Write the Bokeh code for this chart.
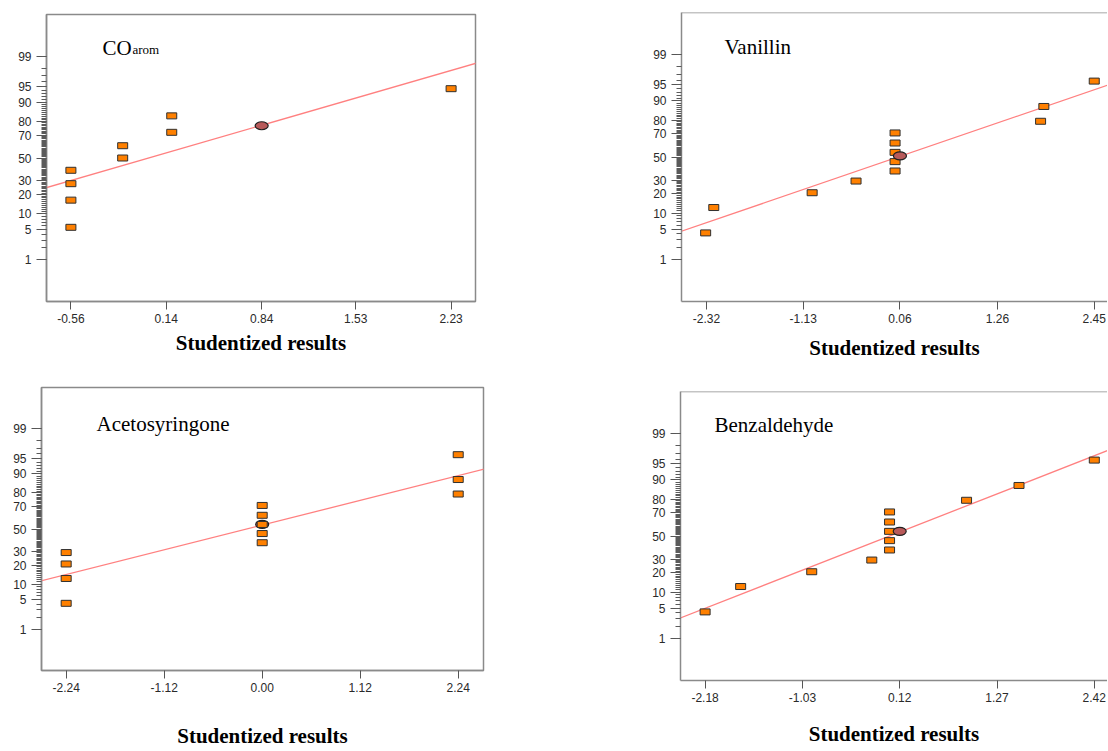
from statistics import NormalDist
from bokeh.plotting import figure
from bokeh.models import (Range1d, FixedTicker, PrintfTickFormatter, Slope, Label,
                          Span, ColumnDataSource)
from bokeh.layouts import row, column
from bokeh.embed import file_html
from bokeh.resources import INLINE

# ---------------- data ----------------
prob_ticks = [1, 5, 10, 20, 30, 50, 70, 80, 90, 95, 99]
x_title = "Studentized results"

# CO arom
co_xticks = [-0.56, 0.14, 0.84, 1.53, 2.23]
co_x = [-0.56, -0.56, -0.56, -0.56, -0.18, -0.18, 0.18, 0.18, 2.23]
co_p = [5.6, 16.7, 27.8, 38.9, 50.0, 61.1, 72.2, 83.3, 94.4]
co_sel_x = [0.84]
co_sel_p = [77.0]
co_fit = [0.905, -0.01]          # slope, intercept (normal-score units)

# Vanillin
va_xticks = [-2.32, -1.13, 0.06, 1.26, 2.45]
va_x = [-2.33, -2.23, -1.02, -0.48, 0.0, 0.0, 0.0, 0.0, 0.0, 1.79, 1.83, 2.45]
va_p = [4.2, 12.5, 20.8, 29.2, 37.5, 45.8, 54.2, 62.5, 70.8, 79.2, 87.5, 95.8]
va_sel_x = [0.06]
va_sel_p = [51.0]
va_fit = [0.6345, -0.024]

# Acetosyringone
ac_xticks = [-2.24, -1.12, 0.00, 1.12, 2.24]
ac_x = [-2.24, -2.24, -2.24, -2.24, 0.0, 0.0, 0.0, 0.0, 0.0, 2.24, 2.24, 2.24]
ac_p = [4.2, 12.5, 20.8, 29.2, 37.5, 45.8, 54.2, 62.5, 70.8, 79.2, 87.5, 95.8]
ac_sel_x = [0.0]
ac_sel_p = [54.2]
ac_fit = [0.5128, 0.091]

# Benzaldehyde
be_xticks = [-2.18, -1.03, 0.12, 1.27, 2.42]
be_x = [-2.18, -1.76, -0.92, -0.21, 0.0, 0.0, 0.0, 0.0, 0.0, 0.91, 1.53, 2.42]
be_p = [4.2, 12.5, 20.8, 29.2, 37.5, 45.8, 54.2, 62.5, 70.8, 79.2, 87.5, 95.8]
be_sel_x = [0.12]
be_sel_p = [54.2]
be_fit = [0.7546, 0.0]

# ---------------- helpers ----------------
ND = NormalDist()


def z(pct):
    return ND.inv_cdf(pct / 100.0)


ZMAX = 3.29
GRAY = "#8a8a8a"
TICKC = "#555555"
LABC = "#2a2a2a"


def make_panel(title, xs, ps, xticks, sel_x, sel_p, fit, xr, w, h, bl, br, bt, bb,
               title_xy, xlab_standoff, closed, sub=None, sub_xy=None,
               circle_under=False):
    fh = h - bt - bb
    p = figure(width=w, height=h, x_range=Range1d(*xr), y_range=Range1d(-ZMAX, ZMAX),
               output_backend="svg", toolbar_location=None,
               min_border_left=bl, min_border_right=br, min_border_top=bt,
               min_border_bottom=bb, background_fill_color="white",
               border_fill_color="white")
    p.grid.visible = False
    if closed:
        p.outline_line_color = GRAY
        p.outline_line_width = 1.5
    else:
        p.outline_line_color = None
        p.add_layout(Span(location=ZMAX, dimension="width", line_color=GRAY,
                          line_width=1.5))

    xa = p.xaxis[0]
    xa.ticker = FixedTicker(ticks=xticks)
    xa.formatter = PrintfTickFormatter(format="%.2f")
    xa.axis_line_color = GRAY
    xa.axis_line_width = 1.5
    xa.major_tick_line_color = TICKC
    xa.major_tick_out = 8
    xa.major_tick_in = 0
    xa.minor_tick_line_color = None
    xa.major_label_standoff = 4
    xa.major_label_text_font = "Liberation Sans"
    xa.major_label_text_font_size = "12px"
    xa.major_label_text_color = LABC
    xa.axis_label = x_title
    xa.axis_label_standoff = xlab_standoff
    xa.axis_label_text_font = "Liberation Serif"
    xa.axis_label_text_font_size = "21px"
    xa.axis_label_text_font_style = "bold"
    xa.axis_label_text_color = "black"

    ya = p.yaxis[0]
    ya.ticker = FixedTicker(ticks=[z(v) for v in prob_ticks],
                            minor_ticks=[z(k) for k in range(1, 100)])
    ya.major_label_overrides = {z(v): str(v) for v in prob_ticks}
    ya.axis_line_color = GRAY
    ya.axis_line_width = 1.5
    ya.major_tick_line_color = TICKC
    ya.major_tick_out = 10
    ya.major_tick_in = 0
    ya.minor_tick_line_color = "#5a5a5a"
    ya.minor_tick_out = 5
    ya.minor_tick_in = 0
    ya.major_label_standoff = 5
    ya.major_label_text_font = "Liberation Sans"
    ya.major_label_text_font_size = "12px"
    ya.major_label_text_color = LABC

    p.add_layout(Slope(gradient=fit[0], y_intercept=fit[1], line_color="#FF8080",
                       line_width=1.3, level="underlay"))

    src = ColumnDataSource(dict(x=xs, y=[z(v) for v in ps]))
    sel = ColumnDataSource(dict(x=sel_x, y=[z(v) for v in sel_p]))
    if circle_under:
        p.ellipse("x", "y", source=sel, width=13, height=8, width_units="screen",
                  height_units="screen", fill_color="#B85A5A", line_color="#202020",
                  line_width=1.2)
    p.rect("x", "y", source=src, width=10, height=6, width_units="screen",
           height_units="screen", fill_color="#FF8000", line_color="#303030",
           line_width=1)
    if not circle_under:
        p.ellipse("x", "y", source=sel, width=13, height=8, width_units="screen",
                  height_units="screen", fill_color="#B85A5A", line_color="#202020",
                  line_width=1.2)

    p.add_layout(Label(x=title_xy[0], y=fh - title_xy[1], x_units="screen",
                       y_units="screen", text=title, text_font="Liberation Serif",
                       text_font_size="21px", text_baseline="alphabetic",
                       text_align="left", text_color="black"))
    if sub:
        p.add_layout(Label(x=sub_xy[0], y=fh - sub_xy[1], x_units="screen",
                           y_units="screen", text=sub, text_font="Liberation Serif",
                           text_font_size="13px", text_baseline="alphabetic",
                           text_align="left", text_color="black"))
    return p


p1 = make_panel("CO", co_x, co_p, co_xticks, co_sel_x, co_sel_p, co_fit,
                (-0.739, 2.409), 620, 379, 46, 145, 14, 78,
                (56, 33), 5, True, sub="arom", sub_xy=(86, 35))
p2 = make_panel("Vanillin", va_x, va_p, va_xticks, va_sel_x, va_sel_p, va_fit,
                (-2.627, 2.613), 487, 380, 61, 0, 12, 79,
                (43, 34), 10, False)
p3 = make_panel("Acetosyringone", ac_x, ac_p, ac_xticks, ac_sel_x, ac_sel_p, ac_fit,
                (-2.522, 2.529), 620, 371, 41, 137, 8, 79,
                (55, 37), 29, True, circle_under=True)
p4 = make_panel("Benzaldehyde", be_x, be_p, be_xticks, be_sel_x, be_sel_p, be_fit,
                (-2.471, 2.576), 487, 370, 60, 0, 11, 70,
                (34, 33), 17, False)

layout = row(column(row(p1), row(p3)), column(row(p2), row(p4)))
open("out.html", "w").write(file_html(layout, INLINE))
